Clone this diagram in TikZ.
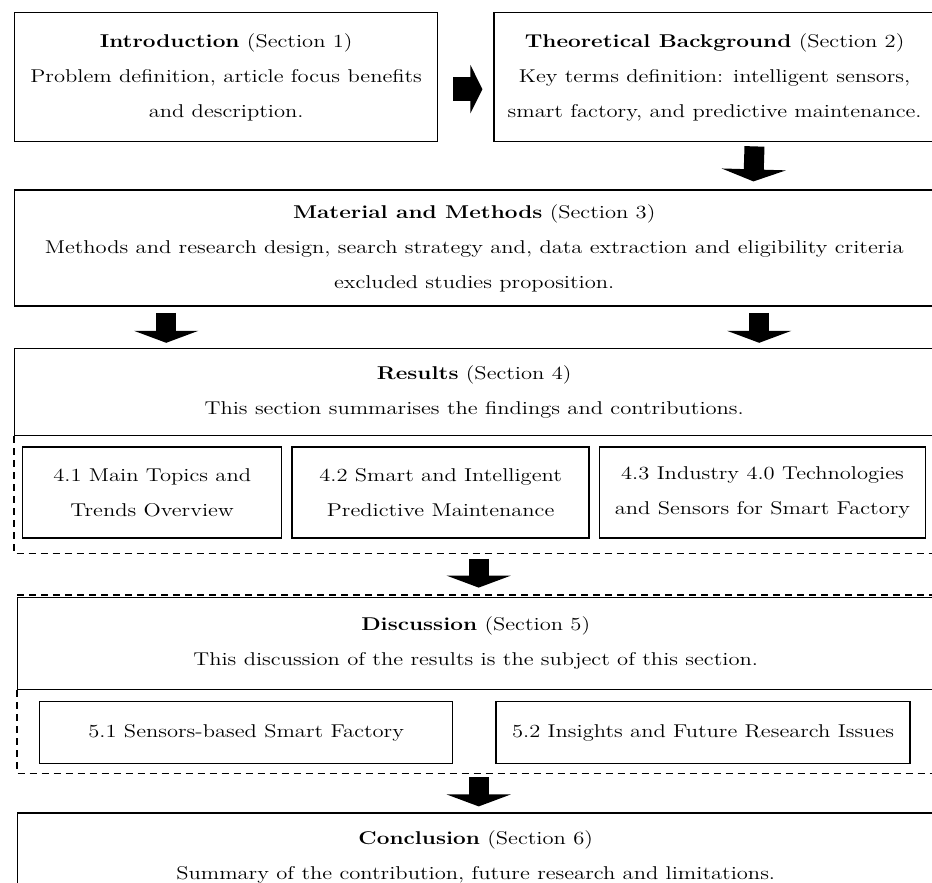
\documentclass[tikz,border=0pt]{standalone}
\usepackage{fontspec}
\setmainfont{lmroman12-regular.otf}[BoldFont=lmroman12-bold.otf, FakeStretch=1.22]
\usepackage{tikz}
\usetikzlibrary{positioning,arrows.meta}

\begin{document}
\begin{tikzpicture}[
    x=1pt, y=1pt,
    font={\fontsize{18.5}{35}\selectfont},
    block/.style={draw,line width=1.4pt,inner sep=0pt,align=center,anchor=north west},
    topic/.style={draw,line width=1.4pt,inner sep=0pt,align=center,anchor=north west},
    frame/.style={line width=1.4pt,dash pattern=on 7pt off 5pt},
    flow/.style={line width=20pt,-{Triangle[length=12pt,width=64pt]}},
]
    \useasboundingbox (0,0) rectangle (932,-883);
    \clip (0,0) rectangle (932,-883);

    % Sections
    \node[block, minimum width=423pt, minimum height=129pt] (intro) at (14,-12)
        {\textbf{Introduction} (Section 1)\\Problem definition, article focus benefits\\and description.};
    \node[block, minimum width=441pt, minimum height=129pt, right=55pt of intro] (theory)
        {\textbf{Theoretical Background} (Section 2)\\Key terms definition: intelligent sensors,\\smart factory, and predictive maintenance.};
    \node[block, minimum width=919pt, minimum height=116pt, below=47pt of intro.south west, anchor=north west] (material)
        {\textbf{Material and Methods} (Section 3)\\Methods and research design, search strategy and, data extraction and eligibility criteria\\excluded studies proposition.};
    \node[block, minimum width=919pt, minimum height=87pt, below=41pt of material.south west, anchor=north west] (results)
        {\textbf{Results} (Section 4)\\This section summarises the findings and contributions.};

    % Results subsections
    \node[topic, minimum width=259pt, minimum height=91pt, below=10pt of results.south west, anchor=north west, xshift=8pt] (res1)
        {4.1 Main Topics and\\Trends Overview};
    \node[topic, minimum width=297pt, minimum height=91pt, right=9pt of res1] (res2)
        {4.2 Smart and Intelligent\\Predictive Maintenance};
    \node[topic, minimum width=326pt, minimum height=91pt, right=9pt of res2] (res3)
        {4.3 Industry 4.0 Technologies\\and Sensors for Smart Factory};
    \coordinate (resfoot) at ([yshift=-15pt]res1.south -| results.south west);
    \draw[frame] (results.south west) -- (resfoot) -- (resfoot -| results.south east);

    \node[block, minimum width=916pt, minimum height=92pt, below=43pt of resfoot, anchor=north west, xshift=3pt] (discussion)
        {\textbf{Discussion} (Section 5)\\This discussion of the results is the subject of this section.};

    % Discussion subsections
    \node[topic, minimum width=413pt, minimum height=62pt, below=11pt of discussion.south west, anchor=north west, xshift=22pt] (disc1)
        {5.1 Sensors-based Smart Factory};
    \node[topic, minimum width=414pt, minimum height=62pt, right=42pt of disc1] (disc2)
        {5.2 Insights and Future Research Issues};
    \coordinate (discfoot) at ([yshift=-9pt]disc1.south -| discussion.south west);
    \draw[frame] ([yshift=1.5pt]discussion.north west) -- ([yshift=1.5pt]discussion.north east);
    \draw[frame] (discussion.south west) -- (discfoot) -- (discfoot -| discussion.south east);

    \node[block, minimum width=916pt, minimum height=88pt, below=39pt of discfoot, anchor=north west] (conclusion)
        {\textbf{Conclusion} (Section 6)\\Summary of the contribution, future research and limitations.};

    % Flow arrows
    \draw[flow, line width=24pt, -{Triangle[length=12pt,width=48pt]}, shorten <=15pt, shorten >=11pt]
        ([yshift=-12pt]intro.east) -- ([yshift=-12pt]theory.west);
    \draw[flow, shorten <=4pt, shorten >=8pt] ([xshift=40pt]theory.south) -- ([xshift=279pt]material.north);
    \draw[flow, shorten <=6pt, shorten >=5pt] ([xshift=-308pt]material.south) -- ([xshift=-308pt]results.north);
    \draw[flow, shorten <=6pt, shorten >=5pt] ([xshift=285pt]material.south) -- ([xshift=285pt]results.north);
    \draw[flow, shorten <=5pt, shorten >=9pt] (resfoot -| discussion.north) ++(3pt,0) -- ([xshift=3pt]discussion.north);
    \draw[flow, shorten <=4pt, shorten >=6pt] ([xshift=3pt]discfoot -| conclusion.north) -- ([xshift=3pt]conclusion.north);

\end{tikzpicture}
\end{document}
